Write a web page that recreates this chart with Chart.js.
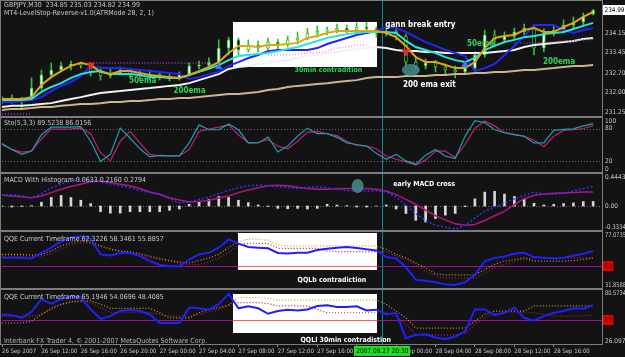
<!DOCTYPE html>
<html>
<head>
<meta charset="utf-8">
<title>GBPJPY M30</title>
<script src="https://cdn.jsdelivr.net/npm/chart.js@4.4.1/dist/chart.umd.min.js"></script>
<style>
    body { margin: 0; background: #131313; }
    #wrap { position: relative; width: 625px; height: 357px; background: #131313; overflow: hidden; }
    #wrap canvas { position: absolute; left: 0; }
    .ln { position: absolute; background: #7c7c7c; }
</style>
</head>
<body>
<div id="wrap">
    <canvas id="cPrice" width="625" height="115" style="top:1px"></canvas>
    <canvas id="cSto" width="625" height="54" style="top:118px"></canvas>
    <canvas id="cMacd" width="625" height="56" style="top:174px"></canvas>
    <canvas id="cQqe1" width="625" height="56" style="top:232px"></canvas>
    <canvas id="cQqe2" width="625" height="67" style="top:290px"></canvas>
    <div class="ln" style="left:0;top:0;width:603px;height:1px"></div>
    <div class="ln" style="left:0;top:0;width:1px;height:345px"></div>
    <div class="ln" style="left:602px;top:0;width:1px;height:345px"></div>
    <div class="ln" style="left:0;top:116px;width:603px;height:2px"></div>
    <div class="ln" style="left:0;top:172px;width:603px;height:2px"></div>
    <div class="ln" style="left:0;top:230px;width:603px;height:2px"></div>
    <div class="ln" style="left:0;top:288px;width:603px;height:2px"></div>
    <div class="ln" style="left:0;top:344px;width:603px;height:1px"></div>
</div>
<script>
// Eixo do tempo (uma vela por hora, rótulo a cada 4 horas)
const tickLabels = ['26 Sep 2007', '26 Sep 12:00', '26 Sep 16:00', '26 Sep 20:00', '27 Sep 00:00', '27 Sep 04:00',
    '27 Sep 08:00', '27 Sep 12:00', '27 Sep 16:00', '27 Sep 20:00', '28 Sep 00:00', '28 Sep 04:00',
    '28 Sep 08:00', '28 Sep 12:00', '28 Sep 16:00'];
const hoursPerTick = 4;
const cursorAt = 38.6;
const cursorLabel = '2007.09.27 20:30';

// Velas GBPJPY M30
const openP = [231.71,231.79,231.68,231.75,232.15,232.63,232.81,232.96,233.03,232.99,232.74,232.59,232.70,232.81,232.66,232.59,232.66,232.55,232.52,232.66,232.96,232.99,233.10,233.61,233.91,233.54,233.72,233.61,233.83,233.76,233.91,233.98,234.16,234.23,234.27,234.34,234.27,234.38,234.31,234.16,234.23,234.05,233.10,232.96,233.07,232.92,232.81,232.74,232.88,233.36,234.09,233.91,234.05,234.20,234.34,233.61,234.16,234.27,234.45,234.56,234.85];
const highP = [231.86,231.90,231.82,232.52,232.81,233.07,233.10,233.14,233.10,233.07,232.92,232.88,232.92,232.88,232.77,232.81,232.74,232.66,232.74,233.07,233.14,233.25,233.91,234.01,233.98,233.91,233.87,233.98,233.94,234.05,234.20,234.34,234.42,234.38,234.49,234.45,234.53,234.56,234.38,234.34,234.31,234.12,233.25,233.21,233.17,233.03,232.96,233.03,233.47,234.27,234.27,234.20,234.34,234.49,234.42,234.31,234.45,234.64,234.75,234.89,235.03];
const lowP = [231.57,231.60,231.42,231.71,232.08,232.52,232.74,232.81,232.88,232.59,232.44,232.52,232.63,232.55,232.48,232.48,232.44,232.41,232.44,232.59,232.85,232.88,233.03,233.36,233.32,233.47,233.47,233.50,233.58,233.65,233.76,233.91,234.01,234.09,234.16,234.16,234.20,234.20,234.01,234.05,233.91,232.96,232.81,232.85,232.74,232.66,232.52,232.66,232.81,233.28,233.72,233.80,233.91,234.09,233.36,233.47,234.05,234.16,234.34,234.45,234.82];
const closeP = [231.79,231.68,231.75,232.15,232.63,232.81,232.96,233.03,232.99,232.74,232.59,232.70,232.81,232.66,232.59,232.66,232.55,232.52,232.66,232.96,232.99,233.10,233.61,233.91,233.54,233.72,233.61,233.83,233.76,233.91,233.98,234.16,234.23,234.27,234.34,234.27,234.38,234.31,234.16,234.23,234.05,233.10,232.96,233.07,232.92,232.81,232.74,232.88,233.36,234.09,233.91,234.05,234.20,234.34,233.61,234.16,234.27,234.45,234.56,234.78,234.99];

// Médias e LevelStop
const emaFast = [231.75,231.75,231.75,231.82,232.26,232.55,232.77,232.96,233.07,232.99,232.74,232.66,232.77,232.77,232.70,232.63,232.59,232.55,232.52,232.63,232.77,232.92,233.10,233.43,233.69,233.69,233.65,233.72,233.72,233.76,233.80,233.98,234.05,234.16,234.23,234.23,234.23,234.23,234.23,234.16,234.01,233.69,233.28,233.10,233.10,232.99,232.88,232.88,233.10,233.61,233.98,234.05,234.09,234.27,234.34,234.20,234.20,234.38,234.53,234.75,234.93];
const ema50 = [231.71,231.71,231.71,231.75,232.01,232.19,232.33,232.52,232.66,232.74,232.77,232.66,232.66,232.66,232.63,232.55,232.55,232.52,232.52,232.63,232.74,232.85,232.99,233.17,233.32,233.36,233.39,233.43,233.50,233.58,233.65,233.76,233.87,233.98,234.05,234.12,234.16,234.20,234.20,234.20,234.16,233.87,233.65,233.54,233.43,233.28,233.17,233.10,233.25,233.54,233.69,233.83,233.91,234.01,234.05,234.12,234.16,234.20,234.31,234.42,234.53];
const stopLine = [231.64,231.64,231.68,231.71,231.82,232.04,232.23,232.37,232.59,232.96,232.88,232.88,232.88,232.85,232.81,232.77,232.74,232.70,232.66,232.48,232.55,232.66,232.74,232.96,233.10,233.25,233.36,233.50,233.54,233.54,233.54,233.54,233.61,233.76,233.87,233.98,234.09,234.16,234.23,234.38,234.34,234.20,234.01,233.83,233.69,233.54,233.43,233.32,232.77,232.88,233.03,233.36,233.69,234.05,234.45,234.45,234.45,234.27,234.16,234.27,234.34];
const ema100 = [231.46,231.50,231.50,231.53,231.57,231.60,231.68,231.75,231.82,231.90,231.97,232.01,232.04,232.08,232.12,232.15,232.19,232.23,232.26,232.33,232.44,232.55,232.66,232.85,232.92,232.96,233.03,233.07,233.14,233.17,233.25,233.32,233.36,233.43,233.47,233.54,233.58,233.61,233.65,233.61,233.54,233.50,233.50,233.47,233.47,233.43,233.43,233.43,233.43,233.43,233.47,233.50,233.54,233.65,233.72,233.76,233.80,233.83,233.87,233.94,233.98];
const ema200 = [231.35,231.39,231.39,231.42,231.46,231.46,231.50,231.53,231.57,231.57,231.60,231.64,231.64,231.68,231.68,231.71,231.75,231.75,231.79,231.79,231.82,231.86,231.90,231.93,231.93,231.97,232.01,232.08,232.12,232.19,232.23,232.26,232.30,232.33,232.37,232.41,232.44,232.52,232.55,232.55,232.55,232.59,232.59,232.59,232.63,232.63,232.66,232.66,232.70,232.70,232.74,232.74,232.77,232.81,232.81,232.85,232.88,232.92,232.96,232.96,232.99];
const levelStop = [231.20,231.20,231.20,231.20,null,null,null,null,null,233.07,233.07,233.07,233.07,233.07,233.07,233.07,233.07,233.07,233.07,233.07,233.07,233.07,null,null,null,null,null,233.36,233.36,233.36,233.39,233.43,233.43,233.50,233.61,233.65,233.72,233.72,null,null,null,null,null,null,null,null,null,null,null,null,null,null,233.80,233.80,233.80,233.83,233.83,233.87,233.87,233.91,233.94];
const sellIdx = [9, 41];
const sellPrice = [232.99, 233.47];
const buyIdx = [22, 47];
const buyPrice = [232.92, 233.00];
const priceTicks = [234.15, 233.45, 232.70, 232.00, 231.25];

// Estocástico
const stochMain = [52.7,41.8,32.7,38.8,69.1,83.0,83.0,83.0,84.2,57.0,19.4,32.7,81.2,63.0,43.0,27.9,30.9,29.7,29.7,53.9,87.3,78.2,78.2,89.1,78.2,53.9,53.9,64.8,37.0,47.9,66.1,81.2,70.9,70.9,64.2,53.9,50.9,47.9,34.5,23.6,32.7,20.6,14.5,30.9,41.8,29.7,24.8,66.1,95.1,91.5,78.2,72.7,69.1,66.1,53.9,53.9,77.0,78.8,80.0,85.4,89.5];
const stochSignal = [50.9,41.8,37.0,38.8,61.2,79.4,79.4,80.0,81.2,70.9,35.8,20.6,57.0,75.1,53.9,32.7,29.7,29.7,29.7,41.8,75.1,79.4,83.0,87.3,69.1,53.9,55.1,60.0,47.9,43.0,57.0,73.3,75.1,70.9,67.3,57.0,49.1,47.9,43.0,29.7,23.6,18.8,12.7,22.4,38.8,38.8,26.7,50.9,81.2,94.5,85.4,73.3,69.1,66.7,58.8,46.7,66.1,77.0,78.2,80.6,86.0];
const stochTicks = [100, 80, 20, 0];

// MACD
const macdHist = [-0.009,-0.014,-0.005,0.005,0.052,0.118,0.146,0.118,0.080,0.033,-0.080,-0.099,-0.099,-0.080,-0.080,-0.080,-0.080,-0.061,-0.042,0.024,0.052,0.090,0.132,0.118,0.080,0.047,0.014,-0.005,-0.033,-0.038,-0.033,-0.042,-0.033,0.024,0.014,0.005,-0.014,-0.014,0.000,0.014,-0.042,-0.104,-0.198,-0.222,-0.174,-0.127,-0.104,-0.009,0.099,0.193,0.203,0.165,0.132,0.099,0.038,0.014,0.024,0.033,0.042,0.061,0.063];
const macdMain = [0.148,0.157,0.138,0.110,0.172,0.252,0.308,0.351,0.374,0.360,0.336,0.308,0.280,0.252,0.214,0.186,0.162,0.101,0.044,0.054,0.091,0.120,0.176,0.214,0.256,0.280,0.289,0.280,0.270,0.252,0.242,0.256,0.270,0.252,0.233,0.214,0.209,0.209,0.209,0.195,0.129,0.007,-0.107,-0.201,-0.267,-0.295,-0.323,-0.267,-0.168,-0.074,-0.012,0.044,0.101,0.148,0.195,0.162,0.162,0.176,0.209,0.242,0.270];
const macdSignal = [0.148,0.138,0.129,0.115,0.138,0.186,0.233,0.270,0.303,0.336,0.346,0.327,0.303,0.280,0.242,0.195,0.162,0.115,0.082,0.054,0.063,0.077,0.110,0.138,0.186,0.223,0.252,0.280,0.289,0.280,0.261,0.242,0.233,0.233,0.238,0.242,0.242,0.242,0.233,0.209,0.162,0.091,0.021,-0.059,-0.135,-0.192,-0.248,-0.267,-0.257,-0.201,-0.135,-0.074,0.021,0.101,0.148,0.167,0.176,0.181,0.186,0.195,0.195];
const macdTicks = [0.4443, 0, -0.3334];

// QQE (duas janelas)
const qqe1Rsi = [56.2,56.2,56.2,55.7,60.3,64.4,69.4,72.7,73.7,71.6,59.0,58.2,60.3,60.1,57.6,53.5,50.7,49.4,49.4,54.8,59.0,60.3,64.4,71.0,67.7,65.0,64.4,63.9,60.1,59.8,60.3,60.3,62.5,63.6,64.4,65.0,64.2,63.1,62.2,56.8,55.7,48.6,38.4,37.8,36.5,34.8,34.3,36.5,42.5,53.5,56.2,57.3,59.5,60.3,56.8,56.2,55.7,56.2,57.9,59.5,61.7];
const qqe1Fast = [59.0,59.0,59.0,58.4,59.0,61.7,65.8,68.6,69.95,68.6,65.8,63.1,61.7,61.2,59.5,57.6,55.7,54.0,52.9,52.1,54.0,56.2,59.0,64.5,69.4,71.3,71.3,70.5,66.7,65.8,65.8,65.8,65.8,65.8,65.8,65.8,65.8,65.8,65.8,63.1,59.0,56.2,52.1,48.0,43.1,42.5,42.5,42.5,42.5,46.7,50.8,53.5,54.9,56.2,53.5,53.5,53.5,53.5,54.0,54.9,56.2];
const qqe1Slow = [57.6,57.6,57.6,57.6,57.6,59.5,63.1,66.7,68.6,67.8,65.8,63.9,61.7,60.4,58.4,56.2,54.9,53.5,52.1,50.8,50.8,52.9,56.2,60.4,66.7,68.0,68.0,67.8,63.9,63.9,63.9,63.9,63.9,61.7,61.2,61.2,61.2,61.2,61.2,61.2,57.6,54.9,50.8,45.3,41.2,39.8,39.8,39.8,39.8,43.9,48.0,50.8,53.5,54.9,56.2,56.2,56.2,56.2,56.2,56.2,56.0];
const qqe1Ticks = [77.0735, 31.8588];
const qqe2Rsi = [55.9,55.2,52.5,58.6,71.3,66.9,71.3,74.4,73.0,61.0,51.5,54.2,59.3,60.4,59.3,55.9,47.3,47.3,47.3,62.8,62.1,60.7,66.2,76.8,62.1,64.1,62.1,56.6,59.3,60.7,60.0,61.0,64.5,65.2,63.4,63.4,64.1,60.0,60.7,55.9,57.6,31.9,35.3,36.0,32.6,30.9,33.6,38.8,61.0,61.0,55.2,57.6,62.8,52.5,49.7,54.2,57.6,59.3,62.1,61.7,65.2];
const qqe2Fast = [47.3,47.3,47.3,49.0,55.9,62.1,66.2,68.9,69.6,69.6,66.2,62.1,62.1,62.1,62.1,62.1,57.6,52.5,52.5,52.5,57.6,61.0,62.8,65.5,73.0,73.0,73.0,72.3,70.3,70.3,70.3,70.3,70.3,70.3,70.3,70.3,70.3,70.3,70.3,66.2,59.3,52.5,42.2,42.2,42.2,42.2,42.2,42.2,49.0,55.9,59.3,59.3,59.3,59.3,64.5,64.5,64.5,64.5,64.5,64.5,64.5];
const qqe2Slow = [54.2,54.2,54.2,54.2,55.9,61.0,65.5,67.9,68.9,67.9,62.8,57.6,57.6,57.6,57.6,57.6,55.9,54.2,54.2,54.2,55.9,58.6,61.0,64.5,67.9,67.9,67.9,66.9,64.5,64.5,64.5,64.5,61.0,57.6,57.6,57.6,57.6,57.6,57.6,57.6,54.2,45.6,35.3,35.3,35.3,35.3,35.3,37.1,45.6,52.5,56.6,57.6,57.6,57.6,57.6,55.9,54.2,54.2,54.2,54.2,55.2];
const qqe2Ticks = [80.5734, 26.097];
const qqeLevel = 50;

// Estilo
const X_MAX = 60.9;
const FONT = '"Liberation Sans Narrow", "DejaVu Sans Condensed", "Liberation Sans", sans-serif';
const BOLD8 = 'bold 8px "DejaVu Sans Condensed", "Liberation Sans Narrow", sans-serif';
const BOLD7 = 'bold 7px "DejaVu Sans Condensed", "Liberation Sans Narrow", sans-serif';
const WICK = '#2fc42f';
const GREEN = '#2fd35a';
const last = closeP.length - 1;

const xy = arr => arr.map((v, i) => ({ x: i, y: v }));

function lineDs(arr, color, width, dash, order) {
    return {
        type: 'line', data: xy(arr), borderColor: color, borderWidth: width,
        borderDash: dash || [], pointRadius: 0, fill: false, spanGaps: false, order: order || 1
    };
}

// Desenhos extras: caixas, níveis, cursor, textos e rótulos do eixo
function decoPlugin(cfg) {
    return {
        id: 'deco',
        beforeDatasetsDraw(chart) {
            const { ctx, chartArea: a, scales: { x, y } } = chart;
            ctx.save();
            (cfg.boxes || []).forEach(b => {
                const x0 = Math.round(x.getPixelForValue(b.x0)), x1 = Math.round(x.getPixelForValue(b.x1));
                const y0 = Math.round(y.getPixelForValue(b.y0)), y1 = Math.round(y.getPixelForValue(b.y1));
                ctx.fillStyle = '#ffffff';
                ctx.fillRect(x0, y0, x1 - x0, y1 - y0);
            });
            (cfg.levels || []).forEach(l => {
                const py = Math.round(y.getPixelForValue(l.v)) + 0.5;
                ctx.lineWidth = 1;
                ctx.setLineDash(l.dash || []);
                ctx.strokeStyle = l.color;
                ctx.beginPath(); ctx.moveTo(a.left, py); ctx.lineTo(a.right, py); ctx.stroke();
                if (l.boxColor) {
                    cfg.boxes.forEach(b => {
                        ctx.strokeStyle = l.boxColor;
                        ctx.beginPath();
                        ctx.moveTo(x.getPixelForValue(b.x0), py);
                        ctx.lineTo(x.getPixelForValue(b.x1), py);
                        ctx.stroke();
                    });
                }
            });
            ctx.setLineDash([]);
            const cx = Math.round(x.getPixelForValue(cursorAt)) + 0.5;
            ctx.strokeStyle = '#0f8c8c';
            ctx.lineWidth = 1;
            ctx.beginPath(); ctx.moveTo(cx, a.top); ctx.lineTo(cx, a.bottom); ctx.stroke();
            ctx.restore();
        },
        afterDatasetsDraw(chart) {
            const { ctx, scales: { x, y } } = chart;
            ctx.save();
            (cfg.ellipses || []).forEach(e => {
                ctx.fillStyle = 'rgba(70,140,140,0.85)';
                ctx.beginPath();
                ctx.ellipse(x.getPixelForValue(e.x), y.getPixelForValue(e.y), e.rx, e.ry, 0, 0, Math.PI * 2);
                ctx.fill();
            });
            ctx.textBaseline = 'middle';
            ctx.textAlign = 'left';
            (cfg.texts || []).forEach(t => {
                ctx.font = t.f;
                ctx.fillStyle = t.c;
                ctx.fillText(t.t, x.getPixelForValue(t.x), y.getPixelForValue(t.y));
            });
            ctx.restore();
        },
        afterDraw(chart) {
            const { ctx, chartArea: a, scales: { x, y } } = chart;
            ctx.save();
            ctx.textBaseline = 'middle';
            ctx.textAlign = 'left';
            ctx.font = '7px ' + FONT;
            (cfg.titles || []).forEach(t => {
                ctx.fillStyle = t.c || '#c8c8c8';
                ctx.fillText(t.t, 4, t.y);
            });
            ctx.font = '6.5px ' + FONT;
            (cfg.ticks || []).forEach(v => {
                const py = Math.min(Math.max(y.getPixelForValue(v), a.top + 3), a.bottom - 3);
                ctx.fillStyle = '#c8c8c8';
                ctx.fillText(cfg.fmt(v), a.right + 3, py, 21);
            });
            (cfg.marks || []).forEach(m => {
                const py = Math.round(y.getPixelForValue(m.v));
                const w = Math.min(ctx.measureText(m.t).width + 3, 22);
                ctx.fillStyle = m.bg;
                ctx.fillRect(a.right + 1, py - 5, w, 10);
                ctx.fillStyle = m.fg;
                ctx.fillText(m.t, a.right + 2.5, py, 20);
            });
            if (cfg.dateBox) {
                const cx = x.getPixelForValue(cursorAt);
                const w = ctx.measureText(cursorLabel).width + 4;
                ctx.fillStyle = '#1ee01e';
                ctx.fillRect(Math.round(cx - w / 2), a.bottom + 2, Math.round(w), 10);
                ctx.fillStyle = '#000000';
                ctx.textAlign = 'center';
                ctx.fillText(cursorLabel, cx, a.bottom + 7.5);
            }
            ctx.restore();
        }
    };
}

function xScale(withAxis) {
    return {
        type: 'linear', min: 0, max: X_MAX, display: withAxis, position: 'bottom', offset: false,
        afterBuildTicks: s => { s.ticks = tickLabels.map((t, k) => ({ value: k * hoursPerTick })); },
        afterFit: s => { s.height = withAxis ? 13 : 0; },
        ticks: {
            autoSkip: false, maxRotation: 0, minRotation: 0, align: 'start', padding: 1,
            color: '#c8c8c8', font: { size: 6, family: FONT },
            callback: (v, k) => tickLabels[k]
        },
        grid: { offset: false, drawOnChartArea: false, drawTicks: true, tickLength: 3, color: '#8a8a8a' },
        border: { display: false }
    };
}

function makePanel(id, datasets, yMin, yMax, deco, withAxis) {
    return new Chart(document.getElementById(id), {
        type: 'line',
        data: { datasets: datasets },
        options: {
            responsive: false, animation: false, events: [],
            layout: { autoPadding: false, padding: { left: 2, right: 0, top: 0, bottom: 0 } },
            plugins: { legend: { display: false }, tooltip: { enabled: false } },
            scales: {
                x: xScale(withAxis),
                y: {
                    position: 'right', min: yMin, max: yMax,
                    afterFit: s => { s.width = 23; },
                    ticks: { display: false }, grid: { display: false }, border: { display: false }
                }
            }
        },
        plugins: [decoPlugin(deco)]
    });
}

// Painel de preço
const priceBox = { x0: 23.45, x1: 38.05, y0: 234.56, y1: 232.92 };
const inPriceBox = v => v >= priceBox.x0 && v <= priceBox.x1;

makePanel('cPrice', [
    {
        type: 'bar', data: lowP.map((l, i) => ({ x: i, y: [l, highP[i]] })),
        backgroundColor: WICK, barThickness: 1, grouped: false, order: 20
    },
    {
        type: 'bar', data: openP.map((o, i) => ({ x: i, y: [Math.min(o, closeP[i]), Math.max(o, closeP[i])] })),
        backgroundColor: openP.map((o, i) => closeP[i] >= o ? '#ffffff' : '#000000'),
        borderColor: WICK, borderWidth: 1, borderSkipped: false, barThickness: 3, grouped: false, order: 19
    },
    lineDs(ema200, '#cdb590', 2, null, 9),
    lineDs(ema100, '#f2f2f2', 2, null, 8),
    Object.assign(lineDs(levelStop, '#a040c0', 1.5, [1, 2], 7), {
        segment: { borderColor: c => inPriceBox(c.p0.parsed.x) ? '#ff88ff' : '#a040c0' }
    }),
    lineDs(stopLine, '#2424ff', 2, null, 6),
    lineDs(ema50, '#22e6e6', 2, null, 5),
    lineDs(emaFast, '#e0a612', 2, null, 4),
    {
        type: 'scatter', data: sellIdx.map((v, k) => ({ x: v, y: sellPrice[k] })),
        pointStyle: 'triangle', rotation: 180, pointRadius: 4,
        backgroundColor: '#ff2020', borderColor: '#ff2020', order: 0
    },
    {
        type: 'scatter', data: buyIdx.map((v, k) => ({ x: v, y: buyPrice[k] })),
        pointStyle: 'triangle', rotation: 0, pointRadius: 3.5,
        backgroundColor: '#3c78ff', borderColor: '#3c78ff', order: 0
    }
], 231.13, 235.33, {
    boxes: [priceBox],
    ellipses: [{ x: 41.5, y: 232.81, rx: 9, ry: 6 }],
    texts: [
        { x: 38.9, y: 234.45, t: 'gann break entry', c: '#ffffff', f: BOLD8 },
        { x: 40.7, y: 232.26, t: '200 ema exit', c: '#ffffff', f: BOLD8 },
        { x: 12.9, y: 232.41, t: '50ema', c: GREEN, f: BOLD8 },
        { x: 47.2, y: 233.76, t: '50ema', c: GREEN, f: BOLD8 },
        { x: 17.4, y: 232.04, t: '200ema', c: GREEN, f: BOLD8 },
        { x: 54.9, y: 233.10, t: '200ema', c: GREEN, f: BOLD8 },
        { x: 29.7, y: 232.81, t: '30min contradition', c: GREEN, f: BOLD7 }
    ],
    titles: [
        { t: 'GBPJPY,M30  ' + openP[last].toFixed(2) + ' ' + highP[last].toFixed(2) + ' ' + lowP[last].toFixed(2) + ' ' + closeP[last].toFixed(2), y: 4 },
        { t: 'MT4-LevelStop-Reverse-v1.0(ATRMode 28, 2, 1)', y: 12 }
    ],
    ticks: priceTicks,
    fmt: v => v.toFixed(2),
    marks: [{ v: closeP[last], t: closeP[last].toFixed(2), bg: '#ffffff', fg: '#000000' }]
}, false);

// Estocástico
makePanel('cSto', [
    lineDs(stochSignal, '#c41e78', 1.2, null, 2),
    lineDs(stochMain, '#1e9fae', 1.2, null, 1)
], 0, 100, {
    levels: [{ v: 80, color: '#707070', dash: [1, 2] }, { v: 20, color: '#707070', dash: [1, 2] }],
    titles: [{ t: 'Sto(5,3,3) ' + '89.5238 86.0156', y: 5 }],
    ticks: stochTicks,
    fmt: v => String(v)
}, false);

// MACD
makePanel('cMacd', [
    {
        type: 'bar', data: xy(macdHist), backgroundColor: '#d6d6d6',
        barThickness: 2, grouped: false, order: 5
    },
    lineDs(macdSignal, '#b0167e', 1.5, null, 2),
    lineDs(macdMain, '#3333ff', 1.5, [2, 2], 1)
], -0.3334, 0.4443, {
    levels: [{ v: 0, color: '#707070', dash: [1, 2] }],
    ellipses: [{ x: 36.1, y: 0.278, rx: 6, ry: 7 }],
    texts: [{ x: 39.7, y: 0.305, t: 'early MACD cross', c: '#ffffff', f: BOLD7 }],
    titles: [{ t: 'MACD With Histogram 0.0633 0.2160 0.2794', y: 6 }],
    ticks: macdTicks,
    fmt: v => v === 0 ? '0.00' : String(v)
}, false);

// QQE 1
makePanel('cQqe1', [
    lineDs(qqe1Slow, '#b81e4e', 1.2, [1, 2], 3),
    lineDs(qqe1Fast, '#d09a30', 1.2, [1, 2], 2),
    lineDs(qqe1Rsi, '#2020ff', 2, null, 1)
], 31.8588, 77.0735, {
    boxes: [{ x0: 23.96, x1: 38.07, y0: 76.2, y1: 46.4 }],
    levels: [{ v: qqeLevel, color: '#9a109a', boxColor: '#ff5a5a' }],
    texts: [{ x: 30.0, y: 38.3, t: 'QQLb contradiction', c: '#ffffff', f: BOLD7 }],
    titles: [{ t: 'QQE Current Timeframe 62.3226 58.3461 55.8857', y: 7 }],
    ticks: qqe1Ticks,
    fmt: v => String(v),
    marks: [{ v: qqeLevel, t: String(qqeLevel), bg: '#e00000', fg: '#3a0000' }]
}, false);

// QQE 2 (com eixo do tempo)
makePanel('cQqe2', [
    lineDs(qqe2Slow, '#b81e4e', 1.2, [1, 2], 3),
    lineDs(qqe2Fast, '#d09a30', 1.2, [1, 2], 2),
    lineDs(qqe2Rsi, '#2020ff', 2, null, 1)
], 26.097, 80.5734, {
    boxes: [{ x0: 23.45, x1: 38.07, y0: 76.5, y1: 37.2 }],
    levels: [{ v: qqeLevel, color: '#9a109a', boxColor: '#ff5a5a' }],
    texts: [{ x: 30.3, y: 30.1, t: 'QQLl 30min contradistion', c: '#ffffff', f: BOLD7 }],
    titles: [
        { t: 'QQE Current Timeframe 65.1946 54.0696 48.4085', y: 7 },
        { t: 'Interbank FX Trader 4, \u00a9 2001-2007 MetaQuotes Software Corp.', y: 51, c: '#b4b4b4' }
    ],
    ticks: qqe2Ticks,
    fmt: v => String(v),
    marks: [{ v: qqeLevel, t: String(qqeLevel), bg: '#e00000', fg: '#3a0000' }],
    dateBox: true
}, true);
</script>
</body>
</html>
